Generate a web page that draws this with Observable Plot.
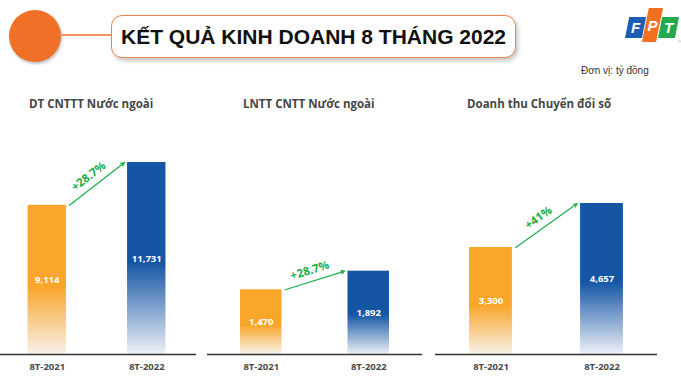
<!DOCTYPE html>
<html><head><meta charset="utf-8">
<script src="https://cdn.jsdelivr.net/npm/d3@7"></script>
<script src="https://cdn.jsdelivr.net/npm/@observablehq/plot@0.6"></script>
<style>
body{margin:0;background:#fff;}
#page{position:relative;width:681px;height:388px;overflow:hidden;background:#fff;font-family:"Open Sans",sans-serif}
.abs{position:absolute}
.circle{left:9px;top:10px;width:52px;height:52px;border-radius:50%;background:#F07027;box-shadow:1px 2px 3px rgba(0,0,0,0.25)}
.connector{left:60px;top:34px;width:52px;height:2px;background:#F39262}
.titlebox{left:111px;top:15px;width:403px;height:41px;border:1.5px solid #F0824A;border-radius:11px;box-shadow:2px 3px 4px rgba(0,0,0,0.22);background:#fff;display:flex;align-items:center;justify-content:center;font-family:"Liberation Sans",Arial,sans-serif;font-weight:bold;font-size:21px;color:#111;white-space:nowrap}
.unit{left:581px;top:65px;font-family:"Liberation Sans",Arial,sans-serif;font-size:10px;color:#333;white-space:nowrap}
.ptitle{top:96px;font-family:"Open Sans",sans-serif;font-weight:700;font-size:11.5px;color:#474747;white-space:nowrap}
.panel{top:150px}
</style>
</head><body>
<div id="page">
  <div class="abs circle"></div>
  <div class="abs connector"></div>
  <div class="abs titlebox">KẾT QUẢ KINH DOANH 8 THÁNG 2022</div>
  <svg class="abs" style="left:620px;top:5px" width="61" height="42" viewBox="0 0 61 42">
    <polygon points="9.2,12 26,12 22,33 5,33" fill="#1C5CB5"/>
    <polygon points="28.8,3 43,3 36,37 22,37" fill="#F37021"/>
    <polygon points="42.2,12 59,12 55,33 38,33" fill="#22A94B"/>
    <text x="15.5" y="28" text-anchor="middle" font-family="Liberation Sans,Arial" font-weight="bold" font-style="italic" font-size="15" fill="#fff">F</text>
    <text x="32.5" y="26" text-anchor="middle" font-family="Liberation Sans,Arial" font-weight="bold" font-style="italic" font-size="15" fill="#fff">P</text>
    <text x="48.5" y="28" text-anchor="middle" font-family="Liberation Sans,Arial" font-weight="bold" font-style="italic" font-size="15" fill="#fff">T</text>
    <text x="58" y="38" font-family="Liberation Sans,Arial" font-size="4" fill="#888">®</text>
  </svg>
  <div class="abs unit">Đơn vị: tỷ đồng</div>
  <div id="t0" class="abs ptitle" style="left:29px"></div>
  <div id="t1" class="abs ptitle" style="left:243px"></div>
  <div id="t2" class="abs ptitle" style="left:467px"></div>
  <div id="p0" class="abs panel" style="left:0px"></div>
  <div id="p1" class="abs panel" style="left:207px"></div>
  <div id="p2" class="abs panel" style="left:435px"></div>
</div>
<script>
// ---- data ----
const categories = ["8T-2021", "8T-2022"];
const panelTitles = ["DT CNTTT Nước ngoài", "LNTT CNTT Nước ngoài", "Doanh thu Chuyển đổi số"];
const dtCnttValues = [9114, 11731];
const lnttCnttValues = [1470, 1892];
const chuyenDoiSoValues = [3300, 4657];
const growthLabels = ["+28.7%", "+28.7%", "+41%"];

// ---- layout / style (not data) ----
const layouts = [
  {width: 196, xDomain: [-0.47, 1.5], yMax: 12464},
  {width: 215, xDomain: [-0.5, 1.5], yMax: 4632},
  {width: 222, xDomain: [-0.5, 1.5], yMax: 6292}
];
const ORANGE = "#F9A62B", ORANGE_LIGHT = "#F8F2EA";
const BLUE = "#1455A4", BLUE_LIGHT = "#EDF1F8";
const GREEN = "#1DAE4B";
const fmt = d3.format(",");

function makePanel(values, growth, lay, idx) {
  const data = values.map((v, i) => ({i, cat: categories[i], value: v}));
  const H = 230, MB = 26, innerH = H - MB;
  const hw = 0.193, gap = 0.03;
  const kx = lay.width / (lay.xDomain[1] - lay.xDomain[0]);
  const ky = innerH / lay.yMax;
  const arrowDatum = {x1: data[0].i + hw + gap, y1: data[0].value, x2: data[1].i - hw - gap, y2: data[1].value};
  const theta = Math.atan2((arrowDatum.y2 - arrowDatum.y1) * ky, (arrowDatum.x2 - arrowDatum.x1) * kx);
  const off = 11, along = -2;
  const tdx = -Math.sin(theta) * off + Math.cos(theta) * along;
  const tdy = -Math.cos(theta) * off - Math.sin(theta) * along;
  const oid = "gradO" + idx, bid = "gradB" + idx;
  const defs = () => {
    const g = d3.create("svg:defs");
    const mk = (id, c, light, solid) => {
      const lg = g.append("linearGradient").attr("id", id).attr("x1", 0).attr("y1", 0).attr("x2", 0).attr("y2", 1);
      lg.append("stop").attr("offset", 0).attr("stop-color", c);
      lg.append("stop").attr("offset", solid).attr("stop-color", c);
      lg.append("stop").attr("offset", 1).attr("stop-color", light);
    };
    mk(oid, ORANGE, ORANGE_LIGHT, 0.55);
    mk(bid, BLUE, BLUE_LIGHT, 0.52);
    return g.node();
  };
  return Plot.plot({
    width: lay.width, height: H,
    marginTop: 0, marginBottom: MB, marginLeft: 0, marginRight: 0,
    x: {type: "linear", domain: lay.xDomain},
    y: {domain: [0, lay.yMax], axis: null},
    style: {fontFamily: "'Open Sans', sans-serif", background: "transparent", overflow: "visible"},
    marks: [
      defs,
      Plot.rect(data.filter(d => d.i === 0), {x1: d => d.i - hw, x2: d => d.i + hw, y1: 0, y2: "value", fill: `url(#${oid})`}),
      Plot.rect(data.filter(d => d.i === 1), {x1: d => d.i - hw, x2: d => d.i + hw, y1: 0, y2: "value", fill: `url(#${bid})`}),
      Plot.ruleY([0], {stroke: "#333", strokeWidth: 1.6}),
      Plot.text(data, {x: "i", y: d => d.value / 2, text: d => fmt(d.value), fill: "white", fontWeight: "bold", fontSize: 9.5}),
      Plot.arrow([arrowDatum], {x1: "x1", y1: "y1", x2: "x2", y2: "y2", stroke: GREEN, strokeWidth: 1.2, headLength: 5, headAngle: 50}),
      Plot.text([growth], {x: () => (arrowDatum.x1 + arrowDatum.x2) / 2, y: () => (arrowDatum.y1 + arrowDatum.y2) / 2, text: d => d,
        rotate: -theta * 180 / Math.PI, dx: tdx, dy: tdy, fill: GREEN, fontWeight: "bold", fontSize: 11.5}),
      Plot.axisX({ticks: data.map(d => d.i), tickFormat: i => categories[i], tickSize: 0, tickPadding: 9, fontSize: 9.5, fontWeight: "bold", color: "#4b4b4b", label: null})
    ]
  });
}

const allValues = [dtCnttValues, lnttCnttValues, chuyenDoiSoValues];
allValues.forEach((vals, k) => {
  document.getElementById("t" + k).textContent = panelTitles[k];
  document.getElementById("p" + k).appendChild(makePanel(vals, growthLabels[k], layouts[k], k));
});
</script>
</body></html>
